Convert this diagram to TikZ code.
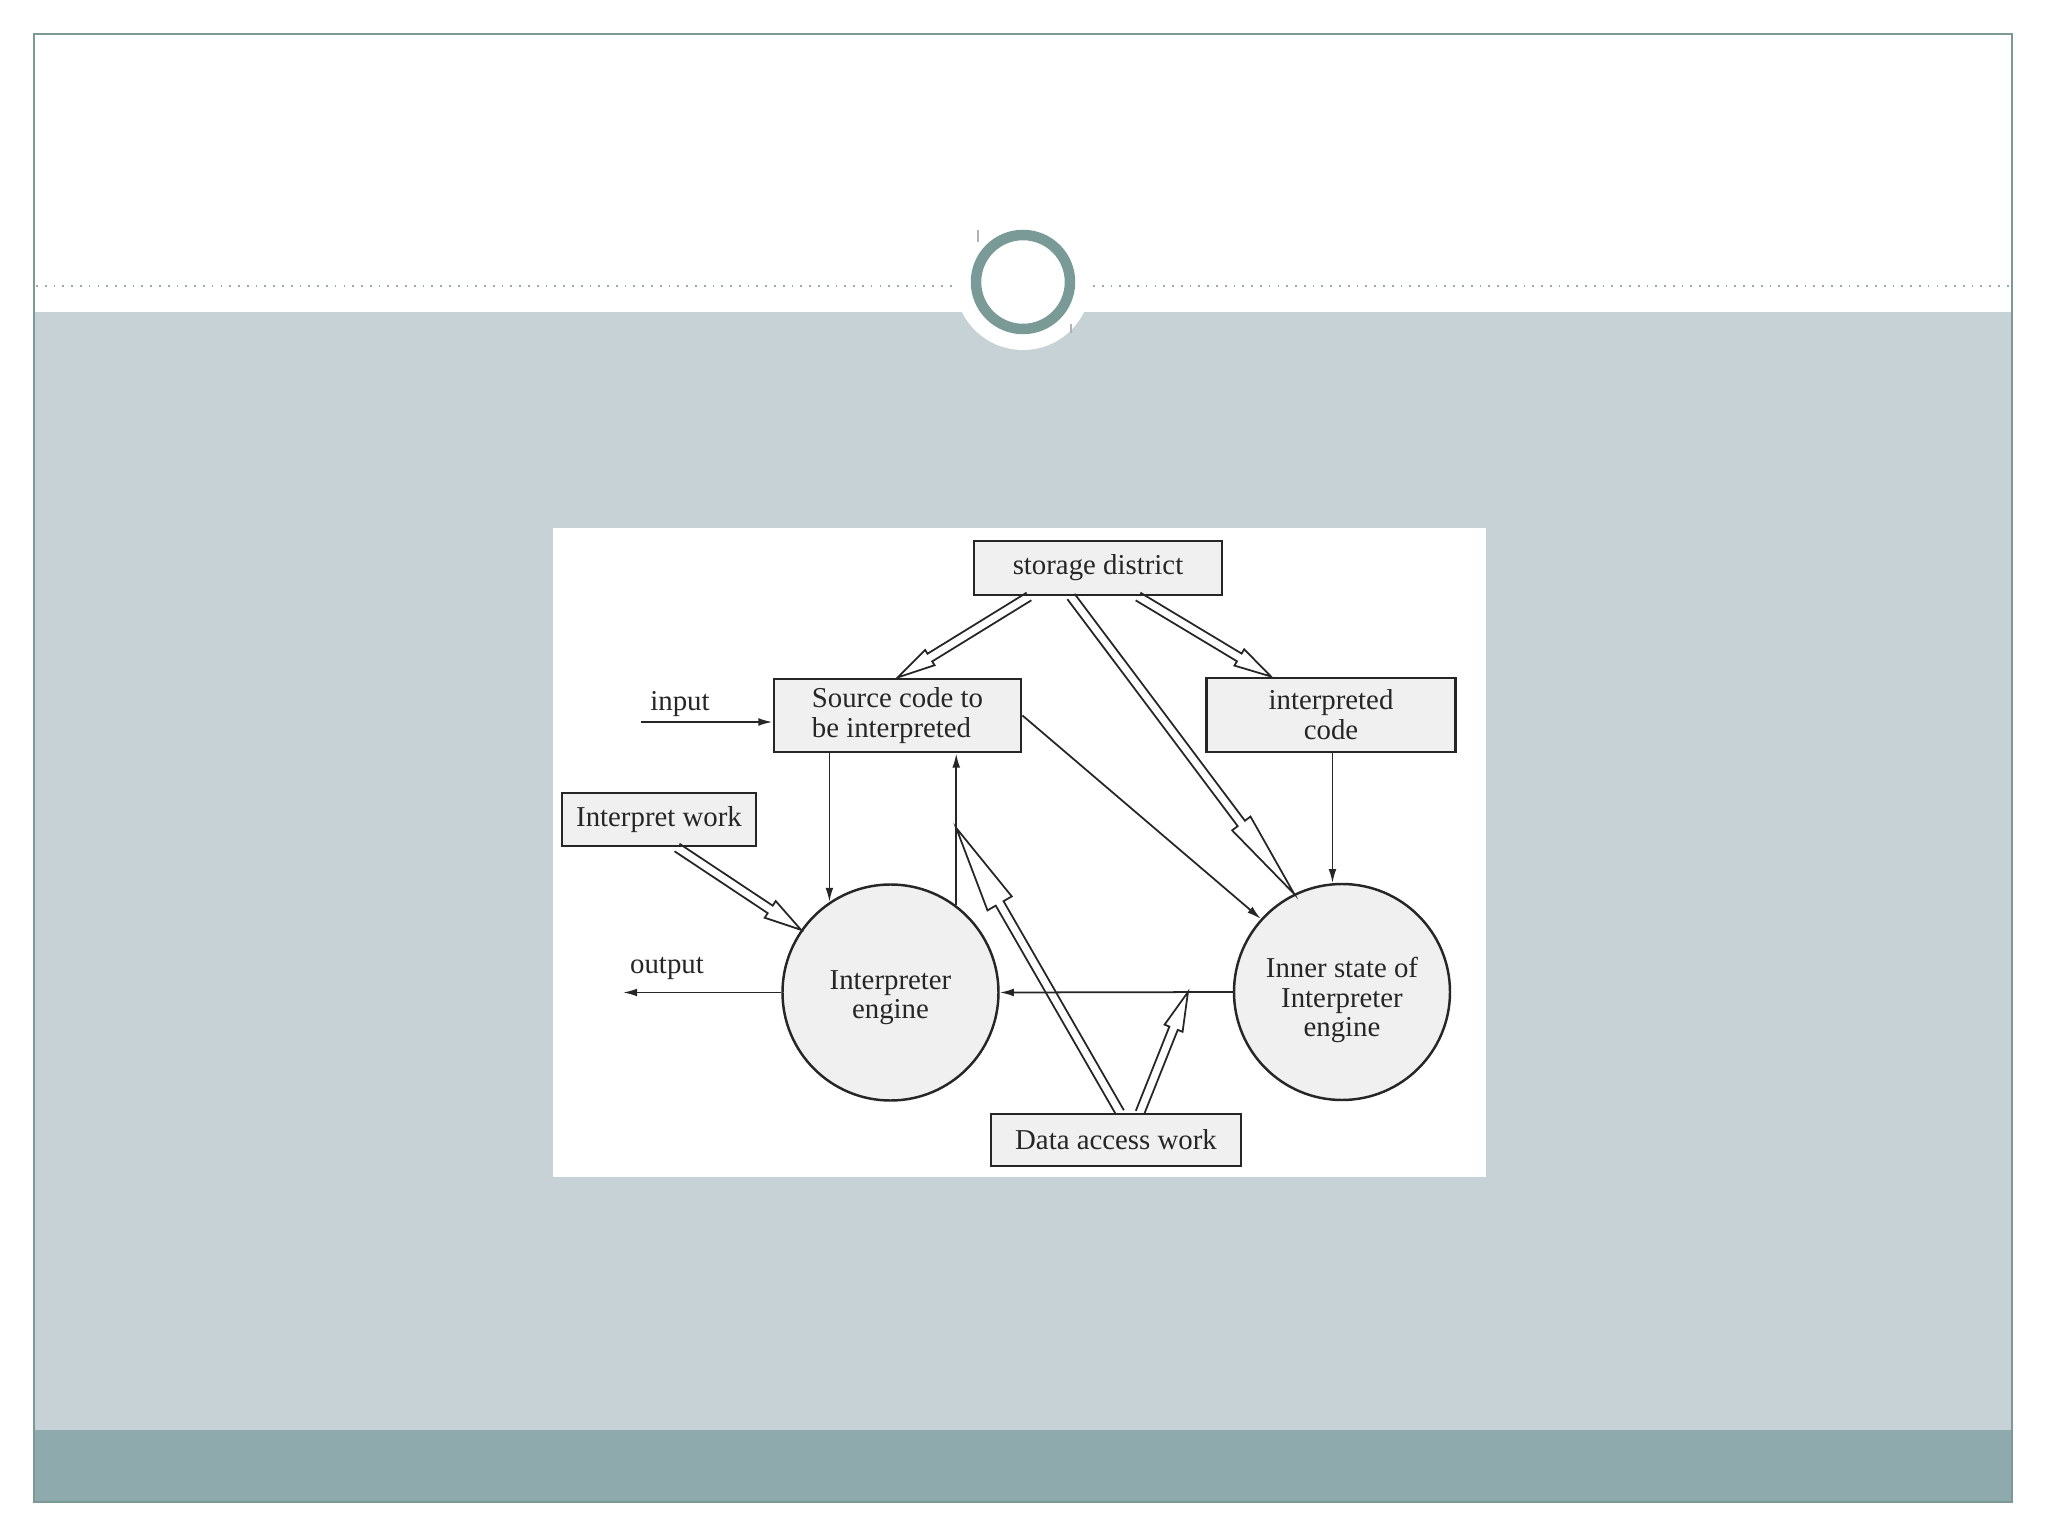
\documentclass[tikz,border=0pt]{standalone}
\usepackage{fontspec}
\setmainfont{Liberation Serif}
\usepackage{tikz}
\usetikzlibrary{calc}
\usetikzlibrary{arrows.meta}
\definecolor{colslide}{RGB}{198,210,213}
\definecolor{colband}{RGB}{142,170,172}
\definecolor{colframe}{RGB}{125,153,150}
\definecolor{colring}{RGB}{122,154,152}
\colorlet{colink}{black!85}
\colorlet{colfill}{black!6}
\tikzstyle{blockbox}=[rectangle, draw=colink, line width=0.85pt, fill=colfill, inner sep=0pt, align=center, text=colink, font=\fontsize{8.2}{8.5}\selectfont]
\tikzstyle{procnode}=[circle, draw=colink, line width=0.7pt, fill=colfill, inner sep=0pt, minimum size=2.16cm]
\tikzstyle{flow}=[line width=0.5pt, colink, -{Latex[length=4pt,width=2.2pt]}]
\tikzstyle{hollow}=[line width=0.5pt, colink, line join=miter]
\tikzstyle{textsty}=[font=\fontsize{8.2}{8.3}\selectfont, text=colink, inner sep=0pt, align=center]
% open double arrow: start, tip, head length, head half width
\newcommand{\hollowarrow}[4]{%
  \coordinate (ha-b) at ($(#2)!#3!(#1)$);
  \draw[hollow] ($(#1)!0.045cm!90:(#2)$) -- ($(ha-b)!0.045cm!90:(#2)$)
    -- ($(ha-b)!#4!90:(#2)$) -- (#2) -- ($(ha-b)!#4!-90:(#2)$)
    -- ($(ha-b)!0.045cm!-90:(#2)$) -- ($(#1)!0.045cm!-90:(#2)$);
}

\begin{document}
\begin{tikzpicture}
      % slide
      \useasboundingbox (0,0) rectangle (20.48,-15.36);
      \fill[white] (0,0) rectangle (20.48,-15.36);
      \fill[colslide] (0.34,-3.12) rectangle (20.12,-14.30);
      \fill[colband] (0.34,-14.30) rectangle (20.12,-15.02);
      \draw[colframe, line width=0.6pt] (0.34,-0.34) rectangle (20.12,-15.02);
      \draw[colframe!80, line width=0.5pt, dotted] (0.36,-2.86) -- (9.55,-2.86) (10.93,-2.86) -- (20.10,-2.86);
      \fill[white] (10.23,-2.82) circle (0.68);
      \draw[colring, line width=0.105cm] (10.23,-2.82) circle (0.47);
      \draw[gray!60, line width=0.3pt] (9.78,-2.30) -- (9.78,-2.42) (10.71,-3.24) -- (10.71,-3.33);

      % figure
      \fill[white] (5.53,-5.28) rectangle (14.86,-11.77);

      \node[blockbox, minimum width=2.48cm, minimum height=0.54cm] (store) at (10.98,-5.68) {storage district};
      \node[blockbox, minimum width=2.47cm, minimum height=0.73cm, align=left] (src) at (8.975,-7.155) {Source code to\\be interpreted};
      \node[blockbox, minimum width=2.49cm, minimum height=0.74cm] (icode) at (13.31,-7.15) {interpreted\\code};
      \node[blockbox, minimum width=1.94cm, minimum height=0.53cm] (work) at (6.59,-8.195) {Interpret work};
      \node[blockbox, minimum width=2.50cm, minimum height=0.52cm] (data) at (11.16,-11.40) {Data access work};
      \node[procnode, label={[textsty, yshift=-0.05cm]center:Interpreter\\engine}] (engine) at (8.905,-9.925) {};
      \node[procnode, label={[textsty, yshift=-0.08cm]center:Inner state of\\Interpreter\\engine}] (state) at (13.42,-9.92) {};

      \node[textsty] (inlbl) at (6.80,-7.04) {input};
      \node[textsty] (outlbl) at (6.67,-9.68) {output};

      % thin arrows
      \coordinate (inpt) at (6.41,-7.22);
      \coordinate (outpt) at (6.23,-9.925);
      \draw[flow] (inpt) -- (inpt -| src.west);
      \draw[flow] (engine.west) -- (outpt |- engine.west);
      \draw[flow] (state.west) -- (engine.east);
      \draw[flow] (engine.124 |- src.south) -- (engine.124);
      \draw[flow] (engine.53) -- (engine.53 |- src.south);
      \draw[flow] (src.east) -- (state.138);
      \draw[flow] (state.95 |- icode.south) -- (state.95);

      % double arrows
      \coordinate (s1) at ([xshift=-6.9mm]store.south);
      \coordinate (s2) at ([xshift=-2.7mm]store.south);
      \coordinate (s3) at ([xshift=4mm]store.south);
      \coordinate (t1) at ([xshift=-6mm]icode.north);
      \coordinate (w1) at ([xshift=1.8mm]work.south);
      \coordinate (d1) at ([xshift=0.4mm]data.north);
      \coordinate (d2) at ([xshift=2.4mm]data.north);
      \coordinate (hit1) at (engine.53 |- 0,-8.28);
      \coordinate (hit2) at (11.88,0 |- state.west);
      \hollowarrow{s1}{src.north}{0.38cm}{0.09cm}
      \hollowarrow{s3}{t1}{0.37cm}{0.095cm}
      \hollowarrow{s2}{state.116}{0.88cm}{0.115cm}
      \hollowarrow{w1}{engine.145}{0.37cm}{0.10cm}
      \hollowarrow{d1}{hit1}{0.87cm}{0.14cm}
      \hollowarrow{d2}{hit2}{0.39cm}{0.097cm}
    \end{tikzpicture}
\end{document}
